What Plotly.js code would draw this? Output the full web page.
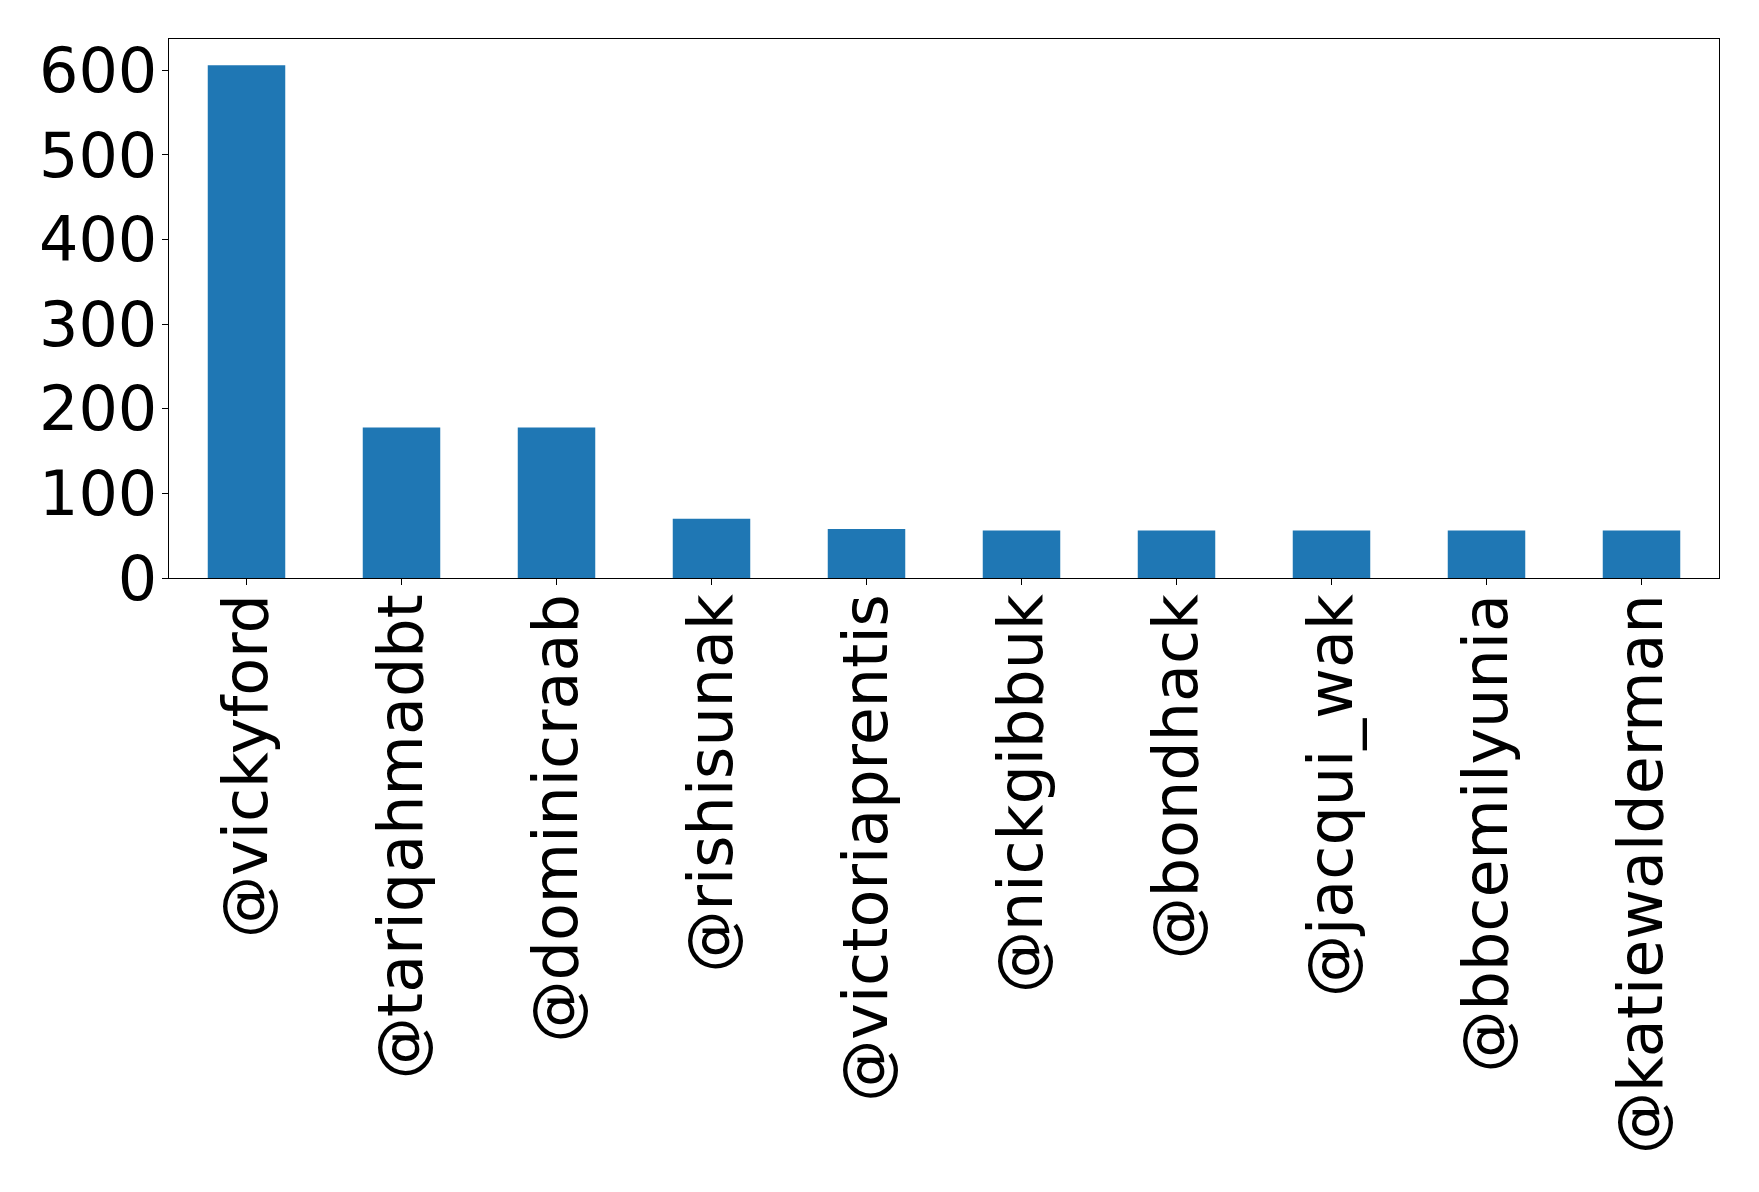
<!DOCTYPE html>
<html>
<head>
<meta charset="utf-8">
<script src="https://cdn.plot.ly/plotly-3.0.1.min.js"></script>
<style>html,body{margin:0;padding:0;background:#fff;}#chart{width:1759px;height:1192px;}</style>
</head>
<body>
<div id="chart"></div>
<script>
const categories = ["@vickyford","@tariqahmadbt","@dominicraab","@rishisunak","@victoriaprentis","@nickgibbuk","@bondhack","@jacqui_wak","@bbcemilyunia","@katiewalderman"];
const counts = [606, 178, 178, 70, 58, 56, 56, 56, 56, 56];
const yTicks = [0, 100, 200, 300, 400, 500, 600];

const trace = {
  type: "bar",
  x: categories,
  y: counts,
  width: 0.5,
  marker: {color: "#1f77b4", line: {width: 0}},
  hoverinfo: "x+y"
};

const font = {family: "DejaVu Sans, sans-serif", size: 62, color: "#000"};

const layout = {
  width: 1759,
  height: 1192,
  margin: {l: 169, r: 40, t: 39, b: 614, pad: 0},
  paper_bgcolor: "#fff",
  plot_bgcolor: "#fff",
  showlegend: false,
  bargap: 0.5,
  font: font,
  xaxis: {
    type: "category",
    range: [-0.5, 9.5],
    tickangle: -90,
    tickfont: font,
    ticks: "outside",
    ticklen: 6,
    tickwidth: 1,
    tickcolor: "#000",
    ticklabelstandoff: -16,
    showline: true,
    linecolor: "#000",
    linewidth: 1.3,
    mirror: true,
    showgrid: false,
    zeroline: false,
    automargin: false
  },
  yaxis: {
    range: [0, 637],
    tickmode: "array",
    tickvals: yTicks,
    ticktext: yTicks.map(String),
    tickfont: font,
    ticks: "outside",
    ticklen: 6,
    tickwidth: 1,
    tickcolor: "#000",
    ticklabelstandoff: -8,
    showline: true,
    linecolor: "#000",
    linewidth: 1.3,
    mirror: true,
    showgrid: false,
    zeroline: false,
    automargin: false
  }
};

Plotly.newPlot("chart", [trace], layout, {displayModeBar: false, staticPlot: true});
</script>
</body>
</html>
